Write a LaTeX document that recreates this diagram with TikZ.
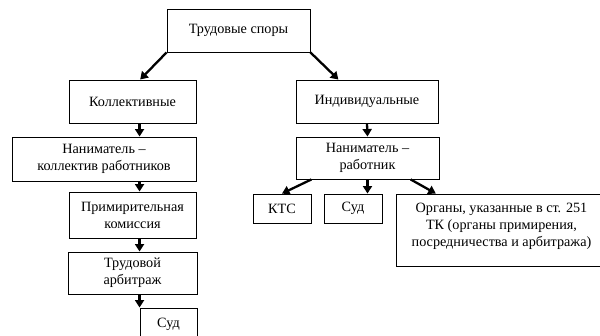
\documentclass[tikz,border=0pt]{standalone}
\usepackage{fontspec}
\setmainfont{Liberation Serif}
\usetikzlibrary{arrows.meta,calc}
\begin{document}
\begin{tikzpicture}[x=1pt,y=-1pt,
  box/.style={draw,line width=0.9pt,inner sep=0pt,align=center,font=\fontsize{14.2}{17}\selectfont},
  txt/.style={inner sep=0pt,align=center,font=\fontsize{14.2}{17}\selectfont},
  arr/.style={line width=2.3pt,-{Triangle[length=7.5pt,width=9pt]}}]
\useasboundingbox (0,0) rectangle (600,336);
\node[box,minimum width=143,minimum height=43] (top) at (238.5,30.5) {Трудовые споры};
\node[box,minimum width=127,minimum height=43] (koll) at (132.5,101.5) {Коллективные};
\node[box,minimum width=142,minimum height=43] (ind) at (367,101.5) {Индивидуальные};
\node[box,minimum width=184,minimum height=44] (nk) at (104,159) {Наниматель –\\коллектив работников};
\node[box,minimum width=143,minimum height=42] (nr) at (367.5,158) {Наниматель –\\работник};
\node[box,minimum width=127,minimum height=46] (prim) at (132.5,215) {Примирительная\\комиссия};
\node[box,minimum width=129,minimum height=42] (arb) at (132.5,273) {Трудовой\\арбитраж};
\node[box,minimum width=57,minimum height=32] (sud1) at (168.5,324) {Суд};
\node[box,minimum width=58,minimum height=29] (ktc) at (282,208.5) {КТС};
\node[box,minimum width=58,minimum height=29] (sud2) at (353,208.5) {Суд};
\node[box,minimum width=211,minimum height=72] (org) at (501.5,230) {};
\node[txt] (orgt) at ($(org.center)+(0,-4)$) {Органы, указанные в ст. 251\\ТК (органы примирения,\\посредничества и арбитража)};
\draw[arr] (top.south west) -- ($(koll.north west)!0.56!(koll.north east)$);
\draw[arr] (top.south east) -- ($(ind.north west)!0.3!(ind.north east)$);
\draw[arr] (koll.south -| sud1.west) -- (nk.north -| sud1.west);
\draw[arr] (ind.south) -- (nr.north);
\draw[arr] (nk.south -| sud1.west) -- (prim.north -| sud1.west);
\draw[arr] (prim.south -| sud1.west) -- (arb.north -| sud1.west);
\draw[arr] (arb.south -| sud1.west) -- (sud1.north west);
\draw[arr] ($(nr.south west)!0.11!(nr.south east)$) -- ($(ktc.north west)!0.5!(ktc.north east)$);
\draw[arr] (nr.south) -- (sud2.north -| nr.south);
\draw[arr] ($(nr.south west)!0.8!(nr.south east)$) -- ($(org.north west)!0.19!(org.north east)$);
\end{tikzpicture}
\end{document}
